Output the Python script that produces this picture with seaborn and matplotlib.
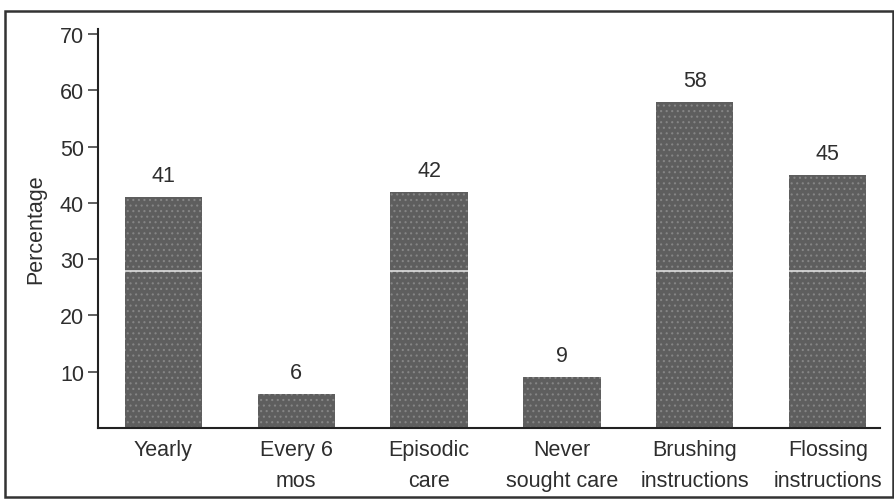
import matplotlib
matplotlib.use("Agg")
import matplotlib.pyplot as plt
import seaborn as sns
import pandas as pd
from matplotlib.patches import Rectangle

categories = ["Yearly", "Every 6\nmos", "Episodic\ncare", "Never\nsought care",
              "Brushing\ninstructions", "Flossing\ninstructions"]
percentages = [41, 6, 42, 9, 58, 45]
y_ticks = [10, 20, 30, 40, 50, 60, 70]

sns.set_theme(style="white")
plt.rcParams["font.family"] = ["Liberation Sans", "DejaVu Sans"]
plt.rcParams["hatch.linewidth"] = 0.8
text_color = "#2e2e2e"
fs = 15.5

df = pd.DataFrame({"category": categories, "percentage": percentages})

fig = plt.figure(figsize=(8.94, 5.02), dpi=100)
ax = fig.add_axes([0.1096, 0.1455, 0.8744, 0.7945])

sns.barplot(data=df, x="category", y="percentage", color="#5e5e5e",
            width=0.58, saturation=1, ax=ax, zorder=2)
for bar in ax.patches:
    bar.set_linewidth(0)
    bar.set_hatch("...")
    bar.set_edgecolor("#858585")

# value labels above each bar
for bar, v in zip(ax.patches, percentages):
    ax.annotate(f"{v}", (bar.get_x() + bar.get_width() / 2, v),
                xytext=(0, 8), textcoords="offset points",
                ha="center", va="bottom", fontsize=fs, color=text_color)

# faint light streak across the bars, kept beneath the axis spine
ax.axhline(27.9, color="white", alpha=0.8, lw=1.2, zorder=2.2)

ax.set_xlim(-0.49, 5.39)
ax.set_ylim(0, 70.9)
ax.set_yticks(y_ticks)
ax.set_yticklabels([str(t) for t in y_ticks])
ax.set_xlabel("")
ax.set_ylabel("Percentage", fontsize=fs, color=text_color, labelpad=10)

ax.tick_params(axis="y", direction="out", length=7, width=1.1, color="#333333",
               labelsize=fs, labelcolor=text_color, pad=3, left=True)
ax.tick_params(axis="x", length=0, labelsize=fs, labelcolor=text_color, pad=8)
for lbl in ax.get_xticklabels():
    lbl.set_linespacing(1.6)

for side in ["top", "right"]:
    ax.spines[side].set_visible(False)
for side in ["left", "bottom"]:
    ax.spines[side].set_color("#222222")
    ax.spines[side].set_linewidth(1.5)
    ax.spines[side].set_zorder(3)

# outer frame
fig.patches.append(Rectangle((5 / 894, 4 / 502), 888 / 894, 486 / 502,
                             transform=fig.transFigure, fill=False,
                             edgecolor="#333333", linewidth=1.8))

fig.savefig("out.png", dpi=100)
